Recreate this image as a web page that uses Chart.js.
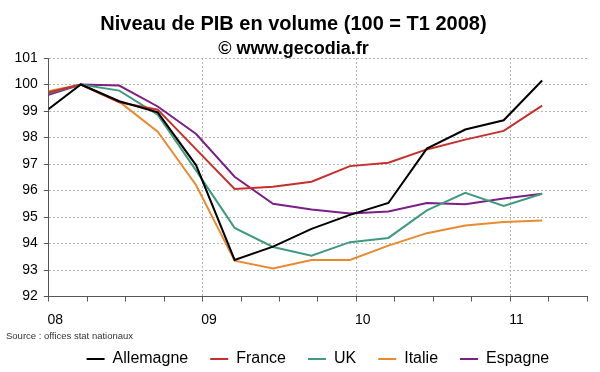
<!DOCTYPE html>
<html>
<head>
<meta charset="utf-8">
<script src="https://cdn.jsdelivr.net/npm/chart.js@4/dist/chart.umd.min.js"></script>
<style>
    body { margin: 0; background: #fff; }
    #wrap { position: relative; width: 600px; height: 372px; overflow: hidden; }
    #source {
        position: absolute; left: 6px; top: 330px;
        font: 9.5px Arial, 'Liberation Sans', sans-serif; color: #333;
    }
</style>
</head>
<body>
<div id="wrap">
    <canvas id="pibChart" width="600" height="377"></canvas>
    <div id="source">Source : offices stat nationaux</div>
</div>
<script>
// Data (100 = T1 2008)
const quarters = ['T4 2007', 'T1 2008', 'T2 2008', 'T3 2008', 'T4 2008', 'T1 2009', 'T2 2009',
    'T3 2009', 'T4 2009', 'T1 2010', 'T2 2010', 'T3 2010', 'T4 2010', 'T1 2011'];
const yearLabels = ['08', '09', '10', '11'];

const allemagne = [98.9, 100, 99.37, 98.95, 96.95, 93.38, 93.88, 94.55, 95.08, 95.53, 97.58, 98.3, 98.65, 100.15];
const france = [99.65, 100, 99.33, 99.05, 97.55, 96.06, 96.14, 96.33, 96.92, 97.05, 97.55, 97.92, 98.25, 99.2];
const uk = [99.62, 100, 99.77, 98.86, 96.75, 94.59, 93.87, 93.54, 94.05, 94.21, 95.25, 95.91, 95.42, 95.88];
const italie = [99.7, 100, 99.35, 98.22, 96.2, 93.35, 93.06, 93.38, 93.38, 93.92, 94.39, 94.68, 94.81, 94.87];
const espagne = [99.54, 100, 99.96, 99.17, 98.13, 96.52, 95.5, 95.28, 95.13, 95.21, 95.53, 95.48, 95.7, 95.88];

const seriesNames = ['Allemagne', 'France', 'UK', 'Italie', 'Espagne'];
const seriesValues = [allemagne, france, uk, italie, espagne];
const seriesColors = ['#000000', '#C62F2B', '#3F9B7B', '#E98A2F', '#7B1F87'];

const FONT = "Arial, 'Liberation Sans', sans-serif";

// x axis is in months since Jan 2008; each quarter is dated mid last month of the quarter
function quarterToMonth(label) {
    const [t, year] = label.split(' ');
    const q = parseInt(t.slice(1), 10);
    return (parseInt(year, 10) - 2008) * 12 + q * 3 - 0.5;
}
const months = quarters.map(quarterToMonth);

const datasets = seriesNames.map((name, i) => ({
    label: name,
    data: seriesValues[i].map((v, j) => ({ x: months[j], y: v })),
    borderColor: seriesColors[i],
    backgroundColor: seriesColors[i],
    borderWidth: 2,
    pointRadius: 0,
    tension: 0,
    fill: false
}));

new Chart(document.getElementById('pibChart'), {
    type: 'line',
    data: { datasets },
    options: {
        responsive: false,
        animation: false,
        layout: { padding: { left: 0, right: 13, top: 0, bottom: 0 } },
        plugins: {
            title: {
                display: true,
                text: 'Niveau de PIB en volume (100 = T1 2008)',
                color: '#000',
                font: { family: FONT, size: 20, weight: 'bold', lineHeight: 1.2 },
                padding: { top: 12, bottom: 0 }
            },
            subtitle: {
                display: true,
                text: '© www.gecodia.fr',
                color: '#000',
                font: { family: FONT, size: 18, weight: 'bold', lineHeight: 1 },
                padding: { top: 4, bottom: 0 }
            },
            legend: {
                position: 'bottom',
                fullSize: false,
                labels: {
                    boxWidth: 18,
                    boxHeight: 2,
                    padding: 22,
                    color: '#000',
                    font: { family: FONT, size: 16 },
                    generateLabels: (chart) =>
                        Chart.defaults.plugins.legend.labels.generateLabels(chart)
                            .map(l => ({ ...l, lineWidth: 0 }))
                }
            },
            tooltip: { enabled: false }
        },
        scales: {
            x: {
                type: 'linear',
                min: 0,
                max: 42,
                afterFit: (scale) => { scale.height = 32.5; },
                ticks: {
                    stepSize: 3,
                    autoSkip: false,
                    maxRotation: 0,
                    labelOffset: 6.5,
                    padding: 10,
                    color: '#000',
                    font: { family: FONT, size: 14 },
                    callback: (v) => (v % 12 === 0 && yearLabels[v / 12]) ? yearLabels[v / 12] : ''
                },
                grid: {
                    color: (ctx) => (ctx.tick && ctx.tick.value % 12 === 0 && ctx.tick.value > 0)
                        ? '#b5b5b5' : 'rgba(0,0,0,0)',
                    tickColor: '#555',
                    tickLength: 5,
                    tickBorderDash: []
                },
                border: { color: '#555', width: 1, dash: [2, 2] }
            },
            y: {
                min: 92,
                max: 101,
                afterFit: (scale) => { scale.width = 48.8; },
                ticks: {
                    stepSize: 1,
                    padding: 6,
                    color: '#000',
                    font: { family: FONT, size: 14 }
                },
                grid: {
                    color: (ctx) => (ctx.tick && ctx.tick.value === 92) ? 'rgba(0,0,0,0)' : '#b5b5b5',
                    tickColor: '#555',
                    tickLength: 5,
                    tickBorderDash: []
                },
                border: { color: '#555', width: 1, dash: [2, 2] }
            }
        }
    }
});
</script>
</body>
</html>
